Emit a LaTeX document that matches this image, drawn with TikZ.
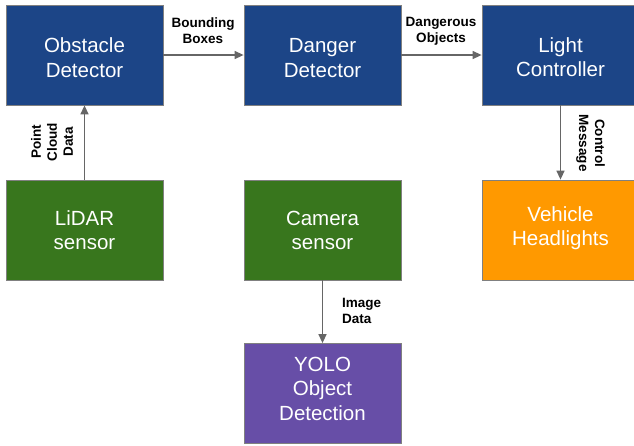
\documentclass[tikz,border=0pt]{standalone}
\usepackage{fontspec}
\setmainfont{Liberation Sans}
\usetikzlibrary{arrows.meta}
\definecolor{dblue}{HTML}{1C4587}
\definecolor{dgreen}{HTML}{38761D}
\definecolor{orng}{HTML}{FF9900}
\definecolor{purp}{HTML}{674EA7}
\definecolor{edge}{HTML}{808080}
\definecolor{arr}{HTML}{666666}
\newcommand\boxlines[1]{\parbox[t]{150pt}{\centering #1}}
\tikzset{
  blk/.style={draw=edge, line width=0.8pt, minimum width=157pt, minimum height=100pt, inner sep=0pt},
  boxtxt/.style={text=white, inner sep=0pt, anchor=base,
    font=\fontsize{20.5pt}{24.5pt}\selectfont},
  lbl/.style={font=\bfseries\fontsize{13.5pt}{16pt}\selectfont, align=center, inner sep=0pt, text=black},
  conn/.style={draw=arr, line width=1.4pt, -{Triangle[length=9pt,width=8pt]}}
}
\begin{document}
\begin{tikzpicture}[x=1pt,y=-1pt]
\useasboundingbox (0,0) rectangle (634,445);
\node[blk, fill=dblue] (obs) at (84.5,55) {};
\node[blk, fill=dblue] (dan) at (322.5,55) {};
\node[blk, fill=dblue] (lig) at (560.5,55) {};
\node[blk, fill=dgreen] (lid) at (84.5,230) {};
\node[blk, fill=dgreen] (cam) at (322.5,230) {};
\node[blk, fill=orng] (veh) at (560.5,230) {};
\node[blk, fill=purp] (yolo) at (322.5,393.5) {};
\node[boxtxt] (obs-t) at ([yshift=-48pt]obs.north) {\boxlines{Obstacle\\Detector}};
\node[boxtxt] (dan-t) at ([yshift=-48pt]dan.north) {\boxlines{Danger\\Detector}};
\node[boxtxt] (lig-t) at ([yshift=-47.5pt]lig.north) {\boxlines{Light\\Controller}};
\node[boxtxt] (lid-t) at ([yshift=-45.5pt]lid.north) {\boxlines{LiDAR\\sensor}};
\node[boxtxt] (cam-t) at ([yshift=-45.5pt]cam.north) {\boxlines{Camera\\sensor}};
\node[boxtxt] (veh-t) at ([yshift=-41.5pt]veh.north) {\boxlines{Vehicle\\Headlights}};
\node[boxtxt] (yolo-t) at ([yshift=-28pt]yolo.north) {\boxlines{YOLO\\Object\\Detection}};
\draw[conn] (obs) -- (dan);
\draw[conn] (dan) -- (lig);
\draw[conn] (lig) -- (veh);
\draw[conn] (lid) -- (obs);
\draw[conn] (cam) -- (yolo);
\node[lbl] (lb1) at (203,31) {Bounding\\Boxes};
\node[lbl] (lb2) at (441,31) {Dangerous\\Objects};
\node[lbl, rotate=90] (lb3) at (52,142) {Point\\Cloud\\Data};
\node[lbl, rotate=-90] (lb4) at (590.5,143) {Control\\Message};
\node[lbl, align=left, anchor=west] (lb5) at (342,311) {Image\\Data};
\end{tikzpicture}
\end{document}
